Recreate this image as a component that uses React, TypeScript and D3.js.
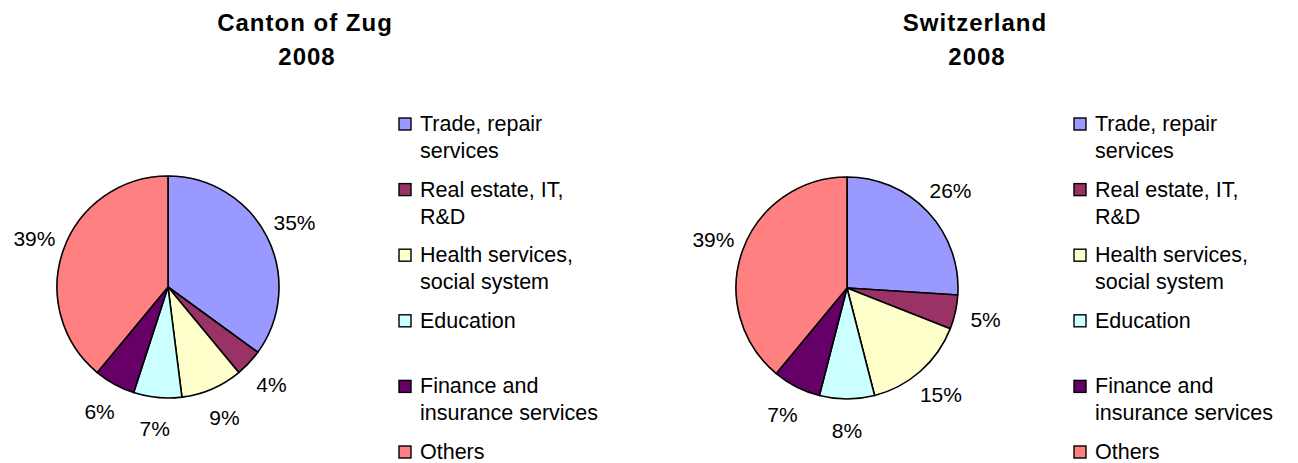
import * as d3 from "d3";

const categories = [
    "Trade, repair services",
    "Real estate, IT, R&D",
    "Health services, social system",
    "Education",
    "Finance and insurance services",
    "Others",
];
const legendLines = [
    ["Trade, repair", "services"],
    ["Real estate, IT,", "R&D"],
    ["Health services,", "social system"],
    ["Education"],
    ["Finance and", "insurance services"],
    ["Others"],
];
const zugValues = [35, 4, 9, 7, 6, 39];
const swissValues = [26, 5, 15, 8, 7, 39];
const colors = ["#9999FF", "#993366", "#FFFFCC", "#CCFFFF", "#660066", "#FF8080"];

const font = "'Liberation Sans', Arial, sans-serif";

const PieBlock = ({ values, title, cx, cy, titleX, legendX }) => {
    const radius = 111;
    const pie = d3.pie().sort(null).value(d => d);
    const arc = d3.arc().innerRadius(0).outerRadius(radius);
    const labelArc = d3.arc().innerRadius(radius + 31).outerRadius(radius + 31);
    const arcs = pie(values);
    const total = d3.sum(values);

    const rowY = d3.scaleLinear().domain([0, categories.length - 1]).range([124, 452]);

    return (
        <g>
            <text x={titleX} y={31} textAnchor="middle" fontFamily={font} fontWeight="bold" fontSize={24} letterSpacing={1}>
                {title}
            </text>
            <text x={titleX + 2} y={65} textAnchor="middle" fontFamily={font} fontWeight="bold" fontSize={24} letterSpacing={1}>
                2008
            </text>
            <g transform={`translate(${cx},${cy})`}>
                {arcs.map((a, i) => (
                    <path key={i} d={arc(a)} fill={colors[i]} stroke="#000" strokeWidth={1.6} strokeLinejoin="round" />
                ))}
                {arcs.map((a, i) => {
                    const [x, y] = labelArc.centroid(a);
                    return (
                        <text key={i} x={x} y={y} dy="0.36em" textAnchor="middle" fontFamily={font} fontSize={21}>
                            {d3.format(".0%")(a.data / total)}
                        </text>
                    );
                })}
            </g>
            {categories.map((c, i) => (
                <g key={c}>
                    <rect x={legendX} y={rowY(i) - 6} width={12} height={12} fill={colors[i]} stroke="#000" strokeWidth={1.4} />
                    {legendLines[i].map((line, j) => (
                        <text key={j} x={legendX + 21} y={rowY(i) + 7 + j * 27} fontFamily={font} fontSize={21.5}>
                            {line}
                        </text>
                    ))}
                </g>
            ))}
        </g>
    );
};

export default function App() {
    return (
        <svg width={1298} height={463} style={{ position: "absolute", left: 0, top: 0, background: "#fff" }}>
            <rect width={1298} height={463} fill="#fff" />
            <PieBlock values={zugValues} title="Canton of Zug" cx={168} cy={287} titleX={305} legendX={399} />
            <PieBlock values={swissValues} title="Switzerland" cx={847} cy={288} titleX={975} legendX={1074} />
        </svg>
    );
}
